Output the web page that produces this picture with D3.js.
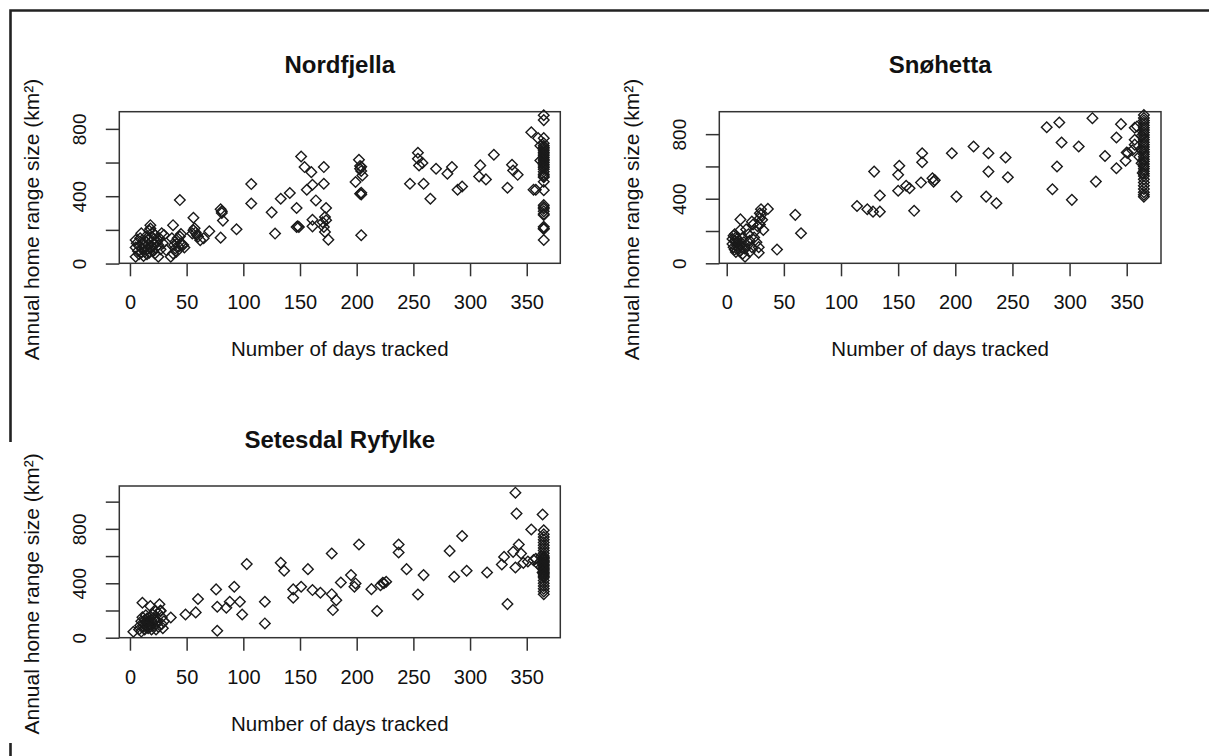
<!DOCTYPE html>
<html>
<head>
<meta charset="utf-8">
<style>
body { margin: 0; background: #fff; }
text { font-family: "Liberation Sans", Arial, sans-serif; fill: #111; }
</style>
</head>
<body>
<svg width="1209" height="756"></svg>
<script src="https://d3js.org/d3.v7.min.js"></script>
<script>

// days tracked vs annual home range size (km2)
var nordfjella = [
  [5,40],[5,95],[5,140],[6,120],[7,75],[8,55],[8,105],[9,150],[10,180],[10,65],[11,90],[12,120],[12,45],
  [13,70],[13,135],[14,100],[14,160],[15,55],[15,85],[16,115],[16,140],[17,65],[17,195],[18,90],[18,228],
  [18,208],[19,130],[19,160],[20,75],[20,100],[20,185],[21,120],[21,145],[22,60],[22,170],[23,95],[24,130],
  [25,40],[25,110],[26,150],[27,85],[28,180],[29,120],[30,170],
  [32,80],[36,40],[37,150],[38,228],[38,60],[39,110],[40,130],[40,90],[41,70],[42,150],[43,100],[44,160],
  [44,377],[45,120],[46,110],[47,110],[48,95],[45,175],
  [55,179],[56,272],[56,198],[57,210],[58,185],[59,170],[60,160],[62,139],[65,150],[70,192],
  [80,322],[81,310],[81,300],[82,255],[80,154],[94,204],
  [107,472],[107,357],[125,304],[128,178],[133,385],[141,419],[147,330],[147,217],[148,222],[149,217],
  [151,636],[154,573],[156,438],[160,543],[161,468],[164,375],[161,260],[161,221],[171,573],[171,474],
  [173,330],[172,276],[173,257],[171,217],[172,188],[175,142],[170,245],
  [199,484],[202,616],[203,563],[204,575],[204,550],[203,580],[205,523],[203,415],[204,420],[204,410],[204,168],
  [247,474],[254,658],[254,622],[255,583],[258,598],[259,474],[265,385],[270,563],[280,533],[284,573],
  [289,438],[293,458],[308,517],[309,583],[314,500],[321,646],[333,450],[337,587],[338,553],[342,527],
  [354,780],[356,438],[358,438],[362,700],[362,612],[360,745],
  [365,881],[365,852],[365,745],[365,714],[365,700],[365,690],[365,680],[365,670],[365,660],[365,650],
  [365,640],[365,630],[365,620],[365,610],[365,600],[365,590],[365,580],[365,570],[365,560],[365,545],
  [365,530],[365,520],[365,513],[365,486],[365,436],[365,347],[365,335],[365,325],[365,310],[365,295],
  [365,288],[365,218],[365,210],[365,205],[365,140]
];

var snohetta = [
  [5,150],[5,120],[6,170],[6,100],[7,140],[7,85],[7,180],[8,130],[8,160],[8,70],[9,110],[9,150],[10,95],
  [10,130],[11,140],[11,75],[12,272],[12,206],[12,115],[13,100],[14,60],[14,160],[15,130],[16,41],[16,90],
  [17,210],[18,110],[19,180],[20,140],[20,70],[22,258],[22,100],[23,240],[24,160],[25,200],[26,130],
  [27,230],[28,65],[28,100],[29,240],[29,279],[29,310],[30,335],[30,300],[31,270],[32,206],[36,337],
  [44,85],[60,300],[65,186],
  [114,355],[123,335],[128,320],[129,568],[134,320],[134,420],[150,449],[150,548],[151,604],[157,480],
  [160,465],[164,325],[170,500],[171,626],[171,682],[180,527],[181,506],[182,515],[197,682],[201,413],
  [216,723],[227,413],[229,682],[229,568],[236,372],[244,655],[246,533],[280,843],[285,459],[289,600],
  [291,872],[293,748],[302,393],[308,723],[320,899],[323,506],[331,665],[341,779],[341,589],[345,862],
  [349,635],[350,686],[351,683],[355,700],[357,735],[357,765],[357,840],[359,847],[361,660],
  [365,918],[365,900],[365,885],[365,870],[365,855],[365,840],[365,825],[365,810],[365,795],[365,780],
  [365,765],[365,750],[365,735],[365,720],[365,705],[365,690],[365,675],[365,660],[365,645],[365,630],
  [365,615],[365,600],[365,585],[365,570],[365,555],[365,540],[365,520],[365,500],[365,480],[365,460],
  [365,440],[365,425],[365,412],[363,790],[363,700],[363,620],[364,560]
];

var setesdal = [
  [3,44],[8,60],[9,90],[10,120],[10,45],[11,257],[11,150],[12,80],[12,100],[13,130],[13,60],[14,110],
  [14,165],[15,90],[15,140],[16,70],[16,120],[17,100],[17,150],[18,232],[18,80],[19,130],[19,60],[20,110],
  [20,170],[21,90],[22,140],[22,200],[23,60],[24,120],[25,180],[25,80],[26,245],[27,196],[27,200],
  [28,100],[28,150],[29,70],[30,120],
  [36,149],[49,171],[58,186],[60,284],[76,355],[77,227],[77,51],[85,220],[88,264],[92,374],[97,264],
  [99,171],[103,541],[119,264],[119,105],[133,550],[136,492],[144,355],[144,294],[151,374],[157,504],
  [161,350],[168,330],[178,619],[178,320],[182,276],[179,203],[186,406],[195,460],[199,399],[198,374],
  [202,685],[213,357],[218,196],[221,386],[223,404],[226,411],[224,400],[237,685],[237,626],[244,504],
  [254,318],[259,460],[282,638],[286,448],[293,748],[297,492],[315,479],[328,538],[330,594],[333,247],
  [338,631],[340,1066],[341,912],[340,516],[343,685],[345,619],[347,550],[351,560],[354,795],[356,570],
  [358,580],[360,540],[362,560],[364,905],
  [365,790],[365,760],[365,740],[365,720],[365,700],[365,680],[365,660],[365,640],[365,620],[365,600],
  [365,590],[365,580],[365,570],[365,560],[365,550],[365,540],[365,530],[365,520],[365,510],[365,500],
  [365,490],[365,480],[365,470],[365,460],[365,450],[365,440],[365,420],[365,400],[365,380],[365,360],
  [365,340],[365,320],[363,600],[363,520],[364,480]
];

var xTicks = [0,50,100,150,200,250,300,350];
var yTicksShort = [0,200,400,600,800];
var yTicksLong = [0,200,400,600,800,1000];
var yLabels = [0,400,800];

var panels = [
  {title: "Nordfjella", data: nordfjella, left: 119.3, right: 560.3, top: 111.7, bottom: 263.3,
   xdom: [-9.4, 379.6], ydom: [1.5, 902], yticks: yTicksShort},
  {title: "Snøhetta", data: snohetta, left: 719.3, right: 1161, top: 111.7, bottom: 263.3,
   xdom: [-6.5, 380], ydom: [0, 939], yticks: yTicksShort},
  {title: "Setesdal Ryfylke", data: setesdal, left: 119.3, right: 560.3, top: 486, bottom: 637.7,
   xdom: [-9.4, 379.6], ydom: [0, 1115], yticks: yTicksLong}
];

var svg = d3.select("svg");
svg.append("rect").attr("width",1209).attr("height",756).attr("fill","#fff");

// the frame of the screenshot (top and left, left edge broken near the bottom)
svg.append("path")
  .attr("d","M10.5,442 L10.5,10.5 L1209,10.5 M10.5,743 L10.5,756")
  .attr("fill","none").attr("stroke","#222").attr("stroke-width",2.6);

var diamond = d3.symbol().type(d3.symbolSquare).size(56);

panels.forEach(function(p){
  var x = d3.scaleLinear().domain(p.xdom).range([p.left, p.right]);
  var y = d3.scaleLinear().domain(p.ydom).range([p.bottom, p.top]);
  var g = svg.append("g");

  // x axis
  var xa = g.append("g")
    .attr("transform","translate(0," + p.bottom + ")")
    .call(d3.axisBottom(x).tickValues(xTicks).tickSize(13).tickSizeOuter(0).tickPadding(19));
  xa.select(".domain").remove();
  xa.selectAll("line").attr("stroke","#333").attr("stroke-width",1.5);
  xa.selectAll("text").style("font-size","20px").attr("fill","#111")
    .style("font-family","Liberation Sans, Arial, sans-serif");

  // y axis, labels rotated like base R
  var ya = g.append("g")
    .attr("transform","translate(" + p.left + ",0)")
    .call(d3.axisLeft(y).tickValues(p.yticks).tickSize(13.5).tickSizeOuter(0)
      .tickFormat(function(d){ return yLabels.indexOf(d) >= 0 ? d : ""; }));
  ya.select(".domain").remove();
  ya.selectAll("line").attr("stroke","#333").attr("stroke-width",1.5);
  ya.selectAll("text")
    .attr("x",null).attr("dy",null)
    .attr("text-anchor","middle")
    .attr("transform","translate(-33,0) rotate(-90)")
    .attr("fill","#111")
    .style("font-size","19px")
    .style("font-family","Liberation Sans, Arial, sans-serif");

  // plot box
  g.append("rect")
    .attr("x",p.left).attr("y",p.top)
    .attr("width",p.right - p.left).attr("height",p.bottom - p.top)
    .attr("fill","none").attr("stroke","#333").attr("stroke-width",1.5);

  // points
  g.selectAll(".pt")
    .data(p.data)
    .enter().append("path")
    .attr("class","pt")
    .attr("d",diamond)
    .attr("transform",function(d){ return "translate(" + x(d[0]) + "," + y(d[1]) + ") rotate(45)"; })
    .attr("fill","none")
    .attr("stroke","#1a1a1a")
    .attr("stroke-width",1.4);

  // titles
  var cx = (p.left + p.right) / 2;
  g.append("text")
    .attr("x",cx).attr("y",p.top - 38.5)
    .attr("text-anchor","middle")
    .style("font-size","24px").style("font-weight","bold")
    .text(p.title);
  g.append("text")
    .attr("x",cx).attr("y",p.bottom + 93)
    .attr("text-anchor","middle")
    .style("font-size","20.5px")
    .text("Number of days tracked");
  var ty = (p.top + p.bottom) / 2 + 32;
  g.append("text")
    .attr("transform","translate(" + (p.left - 80) + "," + ty + ") rotate(-90)")
    .attr("text-anchor","middle")
    .style("font-size","21px")
    .text("Annual home range size (km²)");
});
</script>
</body>
</html>
